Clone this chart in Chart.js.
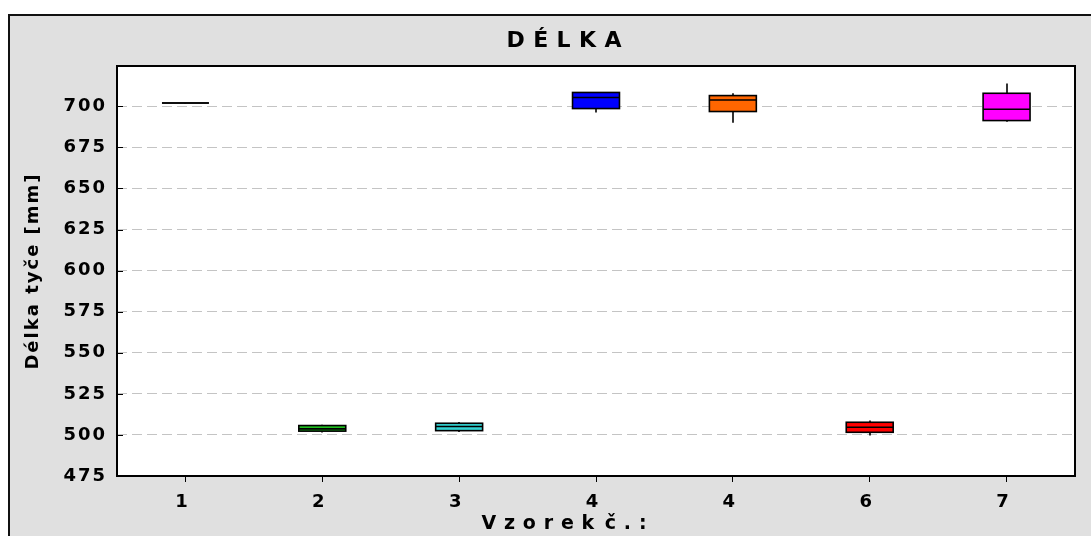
<!DOCTYPE html>
<html>
<head>
<meta charset="utf-8">
<script src="https://cdn.jsdelivr.net/npm/chart.js@4/dist/chart.umd.min.js"></script>
<style>
  html, body { margin: 0; padding: 0; background: #fff; overflow: hidden; width: 1091px; height: 536px; }
  #frame { position: absolute; left: 8px; top: 14px; width: 1200px; height: 600px;
           background: #e0e0e0; border-top: 2px solid #111; border-left: 2px solid #111; }
  #c { position: absolute; left: 0; top: 0; }
</style>
</head>
<body>
<div id="frame"><canvas id="c" width="1110" height="520"></canvas></div>
<script>
// Sample labels along the x axis
const categories = ['1', '2', '3', '4', '4', '6', '7'];

// Box-plot statistics of the rod length per sample [mm]
const minValues    = [701.7, 501.4, 501.8, 696.2, 690.0, 499.6, 690.5];
const q1Values     = [702.0, 502.3, 502.6, 698.6, 696.8, 501.6, 691.3];
const medianValues = [702.0, 503.7, 505.1, 705.3, 703.8, 504.7, 698.2];
const q3Values     = [702.0, 505.7, 507.1, 708.4, 706.5, 507.7, 707.9];
const maxValues    = [702.0, 506.2, 507.9, 708.4, 707.9, 508.7, 713.8];

// Value axis ticks
const yTicks = [475, 500, 525, 550, 575, 600, 625, 650, 675, 700];

const boxColors = ['#000000', '#1fc01f', '#33d2d2', '#0000ff', '#ff6600', '#ff0000', '#ff00ff'];
const FONT = 'DejaVu Sans';
const THIN = '\u2009';

// Slightly tracked lettering for all chart texts
const letterSpacing = {
  id: 'letterSpacing',
  beforeUpdate(chart) { chart.ctx.letterSpacing = '2px'; },
  beforeDraw(chart) { chart.ctx.letterSpacing = '2px'; }
};

// White plot background, plot frame and inner tick marks on the value axis
const plotFrame = {
  id: 'plotFrame',
  beforeDraw(chart) {
    const { ctx, chartArea: a } = chart;
    ctx.save();
    ctx.fillStyle = '#ffffff';
    ctx.fillRect(a.left, a.top, a.right - a.left, a.bottom - a.top);
    ctx.restore();
  },
  afterDraw(chart) {
    const { ctx, chartArea: a } = chart;
    const y = chart.scales.y;
    ctx.save();
    ctx.strokeStyle = '#000';
    ctx.lineWidth = 1;
    yTicks.forEach(v => {
      const py = Math.round(y.getPixelForValue(v)) + 0.5;
      ctx.beginPath();
      ctx.moveTo(a.left, py);
      ctx.lineTo(a.left + 6, py);
      ctx.stroke();
    });
    ctx.lineWidth = 2;
    ctx.strokeRect(a.left, a.top, a.right - a.left, a.bottom - a.top);
    ctx.restore();
  }
};

// Whiskers behind the boxes; box outlines and median lines on top of them
const boxParts = {
  id: 'boxParts',
  beforeDatasetsDraw(chart) {
    const { ctx } = chart;
    const x = chart.scales.x, y = chart.scales.y;
    ctx.save();
    ctx.strokeStyle = '#000';
    ctx.lineWidth = 1.6;
    categories.forEach((_, i) => {
      const px = Math.round(x.getPixelForValue(i));
      ctx.beginPath();
      ctx.moveTo(px, y.getPixelForValue(minValues[i]));
      ctx.lineTo(px, y.getPixelForValue(q1Values[i]));
      ctx.moveTo(px, y.getPixelForValue(q3Values[i]));
      ctx.lineTo(px, y.getPixelForValue(maxValues[i]));
      ctx.stroke();
    });
    ctx.restore();
  },
  afterDatasetsDraw(chart) {
    const { ctx } = chart;
    const y = chart.scales.y;
    const bars = chart.getDatasetMeta(0).data;
    ctx.save();
    ctx.strokeStyle = '#000';
    ctx.lineWidth = 1.6;
    bars.forEach((bar, i) => {
      const left = bar.x - bar.width / 2;
      const top = Math.min(bar.y, bar.base);
      ctx.strokeRect(left, top, bar.width, Math.abs(bar.base - bar.y));
      const py = y.getPixelForValue(medianValues[i]);
      ctx.beginPath();
      ctx.moveTo(left, py);
      ctx.lineTo(left + bar.width, py);
      ctx.stroke();
    });
    ctx.restore();
  }
};

new Chart(document.getElementById('c'), {
  type: 'bar',
  data: {
    labels: categories,
    datasets: [{
      label: 'Délka',
      data: categories.map((_, i) => [q1Values[i], q3Values[i]]),
      backgroundColor: boxColors,
      borderWidth: 0,
      barPercentage: 0.343,
      categoryPercentage: 1
    }]
  },
  options: {
    responsive: false,
    animation: false,
    devicePixelRatio: 1,
    layout: { padding: { left: 45, right: 45, top: 0, bottom: 0 } },
    plugins: {
      legend: { display: false },
      tooltip: { enabled: false },
      title: {
        display: true,
        text: ['D', 'É', 'L', 'K', 'A'].join(THIN),
        color: '#000',
        font: { family: FONT, size: 22, weight: 'bold' },
        padding: { top: 11.8, bottom: 11.8 }
      },
      subtitle: {
        display: true,
        position: 'bottom',
        text: ['V', 'z', 'o', 'r', 'e', 'k'].join(THIN) + ' ' + ['č', '.', ':'].join(THIN),
        color: '#000',
        font: { family: FONT, size: 19, weight: 'bold' },
        padding: { top: 0, bottom: 1 }
      }
    },
    scales: {
      x: {
        grid: { display: true, drawOnChartArea: false, drawTicks: true, tickLength: 6,
                tickColor: '#000', tickWidth: 1, offset: false },
        border: { display: false },
        ticks: { color: '#000', font: { family: FONT, size: 18, weight: 'bold' },
                 padding: 10, labelOffset: -3, maxRotation: 0, autoSkip: false },
        afterFit(s) { s.height = 36.2; }
      },
      y: {
        min: 475,
        max: 724.5,
        afterBuildTicks(s) { s.ticks = yTicks.map(v => ({ value: v })); },
        grid: { color: '#c4c4c4', lineWidth: 1, drawTicks: false },
        border: { display: false, dash: [10, 5] },
        ticks: { color: '#000', font: { family: FONT, size: 18, weight: 'bold' }, padding: 10 },
        title: {
          display: true,
          text: 'Délka tyče [mm]',
          color: '#000',
          font: { family: FONT, size: 18, weight: 'bold' },
          padding: { top: -32.8, bottom: 0 }
        },
        afterFit(s) { s.width = 62; }
      }
    }
  },
  plugins: [letterSpacing, plotFrame, boxParts]
});
</script>
</body>
</html>
